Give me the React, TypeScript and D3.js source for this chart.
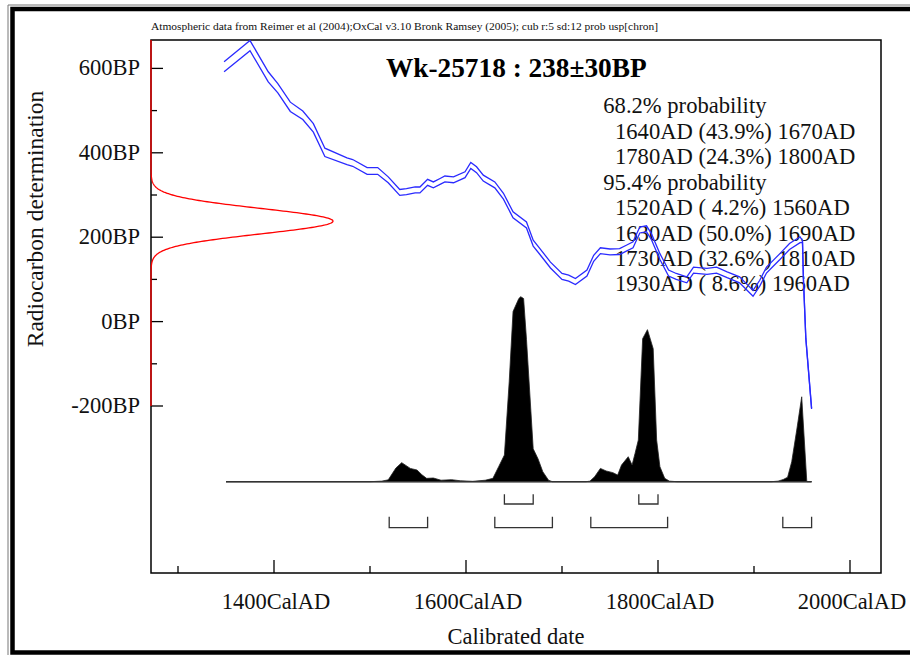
import React from 'react';
import * as d3 from 'd3';

// Calibration curve (IntCal04): cal year AD, mean BP, 1 sigma BP
const calYears = [1348, 1375, 1394, 1404, 1417, 1430, 1441, 1453, 1476, 1482, 1497, 1508, 1519, 1531, 1538, 1547, 1552, 1560, 1566, 1573, 1578, 1587, 1599, 1605, 1611, 1618, 1630, 1639, 1649, 1663, 1670, 1677, 1688, 1700, 1707, 1714, 1726, 1733, 1740, 1750, 1760, 1767, 1774, 1781, 1788, 1793, 1802, 1811, 1819, 1830, 1837, 1851, 1861, 1872, 1885, 1892, 1899, 1906, 1913, 1920, 1927, 1937, 1948, 1950.5, 1951.5, 1954, 1960];
const calBP = [604, 654, 580, 553, 509, 489, 459, 401, 380, 376, 357, 357, 336, 306, 308, 312, 312, 330, 324, 332, 338, 336, 348, 370, 360, 340, 324, 297, 253, 229, 186, 166, 134, 107, 103, 95, 115, 150, 168, 165, 166, 174, 182, 217, 220, 202, 154, 115, 107, 99, 122, 119, 122, 111, 99, 83, 67, 91, 122, 138, 154, 178, 194, 190, 100, -40, -206];
const calSigma = [12, 12, 12, 11, 11, 10, 10, 10, 8, 8, 8, 8, 7, 7, 7, 7, 7, 7, 7, 7, 7, 7, 7, 7, 7, 7, 7, 7, 7, 7, 7, 7, 7, 7, 7, 7, 7, 7, 7, 7, 7, 7, 7, 7, 7, 7, 7, 7, 7, 7, 7, 7, 7, 7, 7, 7, 7, 7, 7, 7, 7, 7, 7, 2, 1, 1, 1];

// Calibrated probability distribution (relative, peak = 1)
const probYears = [1350, 1500, 1512, 1519, 1527, 1533, 1542, 1549, 1554, 1559, 1566, 1574, 1585, 1594, 1607, 1620, 1628, 1634, 1640, 1645, 1649, 1655, 1657, 1660, 1663, 1670, 1675, 1680, 1686, 1690, 1725, 1729, 1734, 1740, 1746, 1753, 1758, 1762, 1769, 1773, 1776, 1779.5, 1784, 1789, 1795, 1798.6, 1802, 1807, 1812, 1820, 1918, 1925, 1930.5, 1935, 1939.3, 1944.5, 1949.7, 1955, 1960];
const probDensity = [0, 0, 0.003, 0.01, 0.074, 0.103, 0.072, 0.063, 0.038, 0.018, 0.02, 0.008, 0.011, 0.005, 0.002, 0.008, 0.018, 0.081, 0.144, 0.54, 0.92, 0.99, 1.0, 0.99, 0.77, 0.178, 0.124, 0.054, 0.008, 0, 0, 0.003, 0.027, 0.072, 0.058, 0.049, 0.036, 0.09, 0.135, 0.09, 0.151, 0.225, 0.773, 0.822, 0.719, 0.225, 0.081, 0.018, 0.003, 0, 0, 0.003, 0.012, 0.024, 0.108, 0.279, 0.459, 0, 0];

// Radiocarbon date
const sampleName = 'Wk-25718';
const dateMean = 238;
const dateSigma = 30;

// Ranges
const range68Start = [1640, 1780];
const range68End = [1670, 1800];
const range95Start = [1520, 1630, 1730, 1930];
const range95End = [1560, 1690, 1810, 1960];

const probLabels = [
  '68.2% probability',
  '1640AD (43.9%) 1670AD',
  '1780AD (24.3%) 1800AD',
  '95.4% probability',
  '1520AD ( 4.2%) 1560AD',
  '1630AD (50.0%) 1690AD',
  '1730AD (32.6%) 1810AD',
  '1930AD ( 8.6%) 1960AD',
];
const probIndent = [false, true, true, false, true, true, true, true];

// Ticks
const xTickMajor = [1400, 1600, 1800, 2000];
const xTickMinor = [1300, 1500, 1700, 1900];
const yTickMajor = [-200, 0, 200, 400, 600];
const yTickMinor = [-100, 100, 300, 500];

const noteText = 'Atmospheric data from Reimer et al (2004);OxCal v3.10 Bronk Ramsey (2005); cub r:5 sd:12 prob usp[chron]';

const W = 910;
const H = 655;
const L = 151, R = 881, T = 40, B = 573;
const FONT = '"Liberation Serif", "Times New Roman", serif';

export default function App() {
  const x = d3.scaleLinear().domain([1400, 2000]).range([274, 850]);
  const y = d3.scaleLinear().domain([-200, 600]).range([406, 68.4]);
  const pScale = d3.scaleLinear().domain([0, 1]).range([481.7, 296.7]);
  const rScale = d3.scaleLinear().domain([0, 1]).range([L, 333]);

  const cal = calYears.map((yr, i) => ({ yr, bp: calBP[i], s: calSigma[i] }));
  const upper = d3.line<any>().x(d => x(d.yr)).y(d => y(d.bp + d.s))(cal) || '';
  const lower = d3.line<any>().x(d => x(d.yr)).y(d => y(d.bp - d.s))(cal) || '';

  const prob = probYears.map((yr, i) => ({ yr, p: probDensity[i] }));
  const area = d3.area<any>().x(d => x(d.yr)).y0(pScale(0)).y1(d => pScale(d.p))(prob) || '';

  const topBP = y.invert(T);
  const bpRange = d3.range(-200, topBP, 1).concat([topBP]);
  const redLine = d3.line<number>()
    .x(bp => rScale(Math.exp(-0.5 * ((bp - dateMean) / dateSigma) ** 2)))
    .y(bp => y(bp))(bpRange) || '';

  const bracket = (a: number, b: number, top: number, bot: number, k: string) => (
    <path key={k} d={`M${x(a)},${top}V${bot}H${x(b)}V${top}`} fill="none" stroke="#333" strokeWidth={1.3} />
  );

  return (
    <svg width={W} height={H} style={{ position: 'absolute', left: 0, top: 0, background: '#fff' }} fontFamily={FONT}>
      <rect x={0} y={0} width={W} height={H} fill="#fff" />
      {/* outer frame */}
      <path d={`M8,${H + 10}V5H${W + 10}`} fill="none" stroke="#777" strokeWidth={1} />
      <rect x={12.5} y={9} width={W + 20} height={643.5} fill="none" stroke="#000" strokeWidth={4.5} />

      {/* note */}
      <text x={L} y={29.5} fontSize={10} fill="#111" textLength={507} lengthAdjust="spacingAndGlyphs">{noteText}</text>

      {/* probability text (under the curve) */}
      {probLabels.map((t, i) => (
        <text key={t} x={probIndent[i] ? 615 : 603.3} y={113.3 + i * 25.45} fontSize={22.6} fill="#111" style={{ whiteSpace: 'pre' }}>{t}</text>
      ))}

      {/* title */}
      <text x={386} y={76.7} fontSize={27.3} fontWeight="bold" fill="#000">{`${sampleName} : ${dateMean}±${dateSigma}BP`}</text>

      {/* plot frame */}
      <rect x={L} y={T} width={R - L} height={B - T} fill="none" stroke="#000" strokeWidth={1.5} />

      {/* y ticks */}
      {yTickMajor.map(v => (
        <g key={'ym' + v}>
          <line x1={L} x2={L + 12} y1={y(v)} y2={y(v)} stroke="#000" strokeWidth={1.3} />
          <text x={140} y={y(v) + 7} fontSize={22.5} textAnchor="end" fill="#111">{`${v}BP`}</text>
        </g>
      ))}
      {yTickMinor.map(v => (
        <line key={'yn' + v} x1={L} x2={L + 6} y1={y(v)} y2={y(v)} stroke="#000" strokeWidth={1.3} />
      ))}

      {/* x ticks */}
      {xTickMajor.map(v => (
        <g key={'xm' + v}>
          <line x1={x(v)} x2={x(v)} y1={B} y2={B - 13} stroke="#000" strokeWidth={1.3} />
          <text x={x(v) + 2} y={609} fontSize={22.5} textAnchor="middle" fill="#111">{`${v}CalAD`}</text>
        </g>
      ))}
      {xTickMinor.map(v => (
        <line key={'xn' + v} x1={x(v)} x2={x(v)} y1={B} y2={B - 7} stroke="#000" strokeWidth={1.3} />
      ))}

      {/* axis titles */}
      <text x={516} y={644} fontSize={22.5} textAnchor="middle" fill="#111">Calibrated date</text>
      <text transform={`translate(43,219) rotate(-90)`} fontSize={23.5} textAnchor="middle" fill="#111">Radiocarbon determination</text>

      {/* radiocarbon date distribution */}
      <path d={redLine} fill="none" stroke="#ff0000" strokeWidth={1.3} />

      {/* calibrated distribution */}
      <path d={area} fill="#000" stroke="#222" strokeWidth={0.8} />
      <line x1={x(probYears[0])} x2={x(probYears[probYears.length - 1])} y1={pScale(0)} y2={pScale(0)} stroke="#333" strokeWidth={1.6} />

      {/* ranges */}
      {range68Start.map((a, i) => bracket(a, range68End[i], 494.3, 504, 'r68' + i))}
      {range95Start.map((a, i) => bracket(a, range95End[i], 516.7, 527.7, 'r95' + i))}

      {/* calibration curve */}
      <path d={upper} fill="none" stroke="#2a2aff" strokeWidth={1.3} />
      <path d={lower} fill="none" stroke="#2a2aff" strokeWidth={1.3} />
    </svg>
  );
}
